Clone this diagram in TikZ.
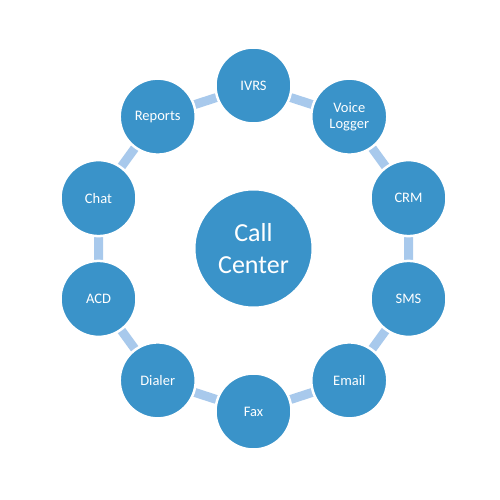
\documentclass[tikz,border=0pt]{standalone}
\usepackage{fontspec}
\setmainfont{Carlito}
\definecolor{nodeblue}{HTML}{3A93C9}
\definecolor{linkblue}{HTML}{A8C9EC}
\begin{document}
\begin{tikzpicture}[x=1pt,y=-1pt,
  sat/.style={circle,fill=nodeblue,draw=white,line width=2.5pt,minimum size=76pt,inner sep=0pt,
    text=white,font=\fontsize{14.5}{16.5}\selectfont,align=center},
  hub/.style={circle,fill=nodeblue,draw=white,line width=2pt,minimum size=118pt,inner sep=0pt,
    text=white,font=\fontsize{26}{32}\selectfont,align=center},
  link/.style={draw=linkblue,line width=9pt}]
\useasboundingbox (0,0) rectangle (500,500);
\fill[white] (0,0) rectangle (500,500);
\coordinate (pivrs) at (253.5,85.5);
\coordinate (pvoice) at (349.3,116.6);
\coordinate (pcrm) at (408.5,198.1);
\coordinate (psms) at (408.5,298.9);
\coordinate (pemail) at (349.3,380.4);
\coordinate (pfax) at (253.5,411.5);
\coordinate (pdialer) at (157.7,380.4);
\coordinate (pacd) at (98.5,298.9);
\coordinate (pchat) at (98.5,198.1);
\coordinate (preports) at (157.7,116.6);
\draw[link] (pivrs) -- (pvoice) -- (pcrm) -- (psms) -- (pemail) -- (pfax) -- (pdialer) -- (pacd) -- (pchat) -- (preports) -- cycle;
\node[hub] (center) at (253.5,248.5) {Call\\Center};
\node[sat] (ivrs) at (pivrs) {IVRS};
\node[sat] (voice) at (pvoice) {Voice\\Logger};
\node[sat] (crm) at (pcrm) {CRM};
\node[sat] (sms) at (psms) {SMS};
\node[sat] (email) at (pemail) {Email};
\node[sat] (fax) at (pfax) {Fax};
\node[sat] (dialer) at (pdialer) {Dialer};
\node[sat] (acd) at (pacd) {ACD};
\node[sat] (chat) at (pchat) {Chat};
\node[sat] (reports) at (preports) {Reports};
\end{tikzpicture}
\end{document}
